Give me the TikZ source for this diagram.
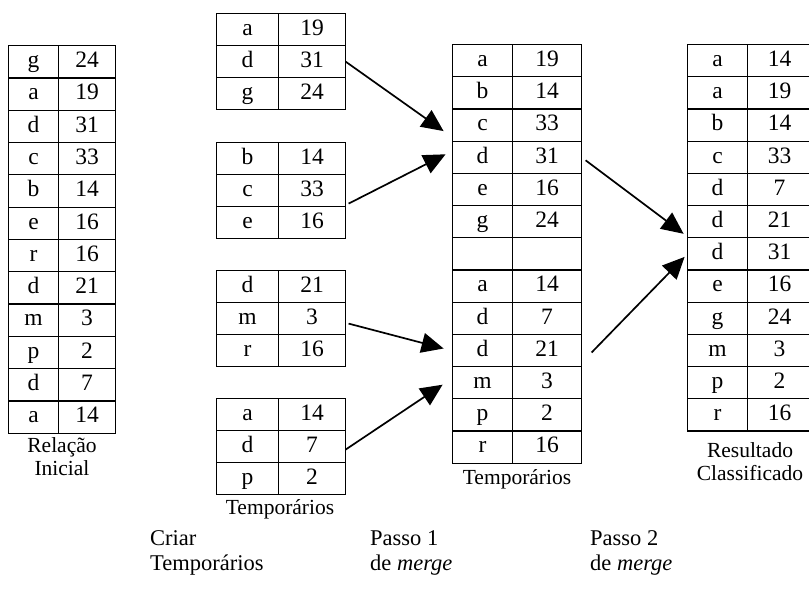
\documentclass[tikz,border=0pt]{standalone}
\usepackage{fontspec}
\setmainfont{Liberation Serif}
\usetikzlibrary{matrix,arrows.meta}

\tikzset{
  cell/.style={draw=black, line width=1.2pt, inner sep=0pt,
    text height=16pt, text depth=4.5pt,
    font=\fontsize{23.5}{27}\selectfont},
  tbl/.style n args={3}{matrix of nodes, nodes in empty cells,
    anchor=north west, inner sep=0pt, outer sep=0pt,
    row sep=-1.2pt, column sep=-1.2pt,
    nodes={cell, minimum height=#1},
    column 1/.style={nodes={minimum width=#2}},
    column 2/.style={nodes={minimum width=#3}}},
  conn/.style={line width=1.7pt, -{Triangle[length=22pt,width=20pt]}},
  lab/.style={align=center, inner sep=0pt, font=\fontsize{21.5}{23}\selectfont},
  foot/.style={anchor=north west, align=left, inner sep=0pt,
    font=\fontsize{22.5}{25}\selectfont}
}

\begin{document}
\begin{tikzpicture}[x=1pt, y=-1pt]
\useasboundingbox (0,0) rectangle (809,604);

% initial relation
\matrix[tbl={32.3pt}{50pt}{57pt}] (L) at (8,45) {
  g & 24 \\ a & 19 \\ d & 31 \\ c & 33 \\ b & 14 \\ e & 16 \\
  r & 16 \\ d & 21 \\ m & 3 \\ p & 2 \\ d & 7 \\ a & 14 \\};
\node[lab] (labL) at (62,457) {Relação\\Inicial};

% sorted runs
\matrix[tbl={32pt}{62pt}{67pt}] (T1) at (216,13) {
  a & 19 \\ d & 31 \\ g & 24 \\};
\matrix[tbl={32pt}{62pt}{67pt}] (T2) at (216,142) {
  b & 14 \\ c & 33 \\ e & 16 \\};
\matrix[tbl={32pt}{62pt}{67pt}] (T3) at (216,270) {
  d & 21 \\ m & 3 \\ r & 16 \\};
\matrix[tbl={32pt}{62pt}{67pt}] (T4) at (216,398) {
  a & 14 \\ d & 7 \\ p & 2 \\};
\node[lab] (labT) at (280,509) {Temporários};

% after merge pass 1
\matrix[tbl={32.2pt}{60pt}{69pt}] (M) at (452,44) {
  a & 19 \\ b & 14 \\ c & 33 \\ d & 31 \\ e & 16 \\ g & 24 \\
    &    \\
  a & 14 \\ d & 7 \\ d & 21 \\ m & 3 \\ p & 2 \\ r & 16 \\};
\node[lab] (labM) at (517,479) {Temporários};

% final result
\matrix[tbl={32.2pt}{60pt}{64pt}] (R) at (687,44) {
  a & 14 \\ a & 19 \\ b & 14 \\ c & 33 \\ d & 7 \\ d & 21 \\
  d & 31 \\ e & 16 \\ g & 24 \\ m & 3 \\ p & 2 \\ r & 16 \\};
\node[lab] (labR) at (750,462) {Resultado\\Classificado};

% merge arrows
\draw[conn] (T1-2-2.east) -- ([shift={(-9,6)}]M-3-1.west);
\draw[conn] ([shift={(3,-3)}]T2-2-2.south east) -- ([shift={(-7,-3)}]M-4-1.west);
\draw[conn] ([shift={(3,5)}]T3-2-2.east) -- ([shift={(-9,-2)}]M-10-1.west);
\draw[conn] ([shift={(0,3)}]T4-2-2.east) -- ([shift={(-10,2)}]M-11-1.west);
\draw[conn] ([shift={(4,3)}]M-4-2.east) -- ([shift={(-4,-4)}]R-6-1.south west);
\draw[conn] ([shift={(10,2)}]M-10-2.east) -- ([shift={(-3,3)}]R-7-1.west);

% phase captions
\node[foot] (f1) at (150,530) {Criar\\Temporários};
\node[foot] (f2) at (370,530) {Passo 1\\de \textit{merge}};
\node[foot] (f3) at (590,530) {Passo 2\\de \textit{merge}};
\end{tikzpicture}
\end{document}
